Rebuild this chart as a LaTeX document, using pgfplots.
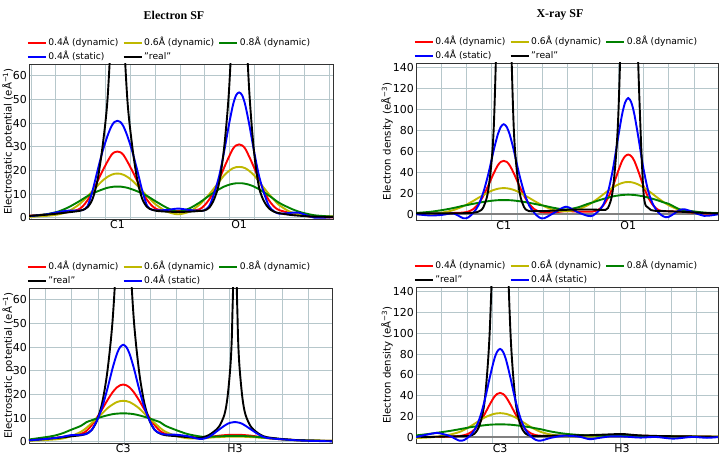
\documentclass[border=0pt]{standalone}
\usepackage{pgfplots}
\pgfplotsset{compat=1.18}
\usepackage{pgfplotstable}
\usepackage{fontspec}
\setmainfont{DejaVu Sans}
\newfontfamily\titlefont{Liberation Serif}

\definecolor{cR}{rgb}{1,0,0}
\definecolor{cO}{rgb}{0.75,0.72,0}
\definecolor{cG}{rgb}{0,0.5,0}
\definecolor{cB}{rgb}{0,0,1}
\definecolor{gridc}{RGB}{182,199,203}

% x  r(0.4 dyn) o(0.6 dyn) g(0.8 dyn) b(0.4 static) k(real)
\pgfplotstableread{
x r o g b k
-0.27 0.9 0.4 0.7 0.7 0.8
-0.1 1.4 0.8 1.5 1.4 1.3
0.02 1.9 1.4 2.6 2.4 1.8
0.12 2.4 2.6 4.3 3.0 2.3
0.22 3.4 5.2 6.6 3.1 2.8
0.27 4.8 7.0 7.9 3.3 3.3
0.32 7.5 9.1 9.2 5.0 4.5
0.37 11.0 11.4 10.3 11.5 8
0.42 15.5 13.6 11.2 20 16
0.47 19.8 15.7 12.0 28 30
0.52 23.8 17.3 12.7 34.6 50
0.56 26.6 18.2 13.0 38.7 85
0.59 27.7 18.6 13.2 40.5 150
0.62 28.0 18.7 13.2 41 400
0.65 27.7 18.6 13.2 40.5 150
0.68 26.6 18.2 13.0 38.7 85
0.72 23.8 17.3 12.7 34.6 50
0.77 19.8 15.7 12.0 28 30
0.82 15.5 13.6 11.2 20 16
0.87 11.0 11.4 10.3 11.5 8
0.92 7.5 9.1 9.2 5.0 4.5
0.97 5.0 7.0 7.9 3.4 3.4
1.02 3.6 5.2 6.6 3.2 2.9
1.12 3.0 2.6 4.2 3.3 2.6
1.23 2.8 1.5 2.6 3.9 2.5
1.345 2.9 2.6 4.0 3.3 2.6
1.445 3.6 5.5 6.4 3.0 2.9
1.495 5.2 7.7 7.9 3.2 3.1
1.545 7.8 10.0 9.4 5.0 4.3
1.595 11.5 12.6 10.8 10.5 8
1.645 16.2 15.3 12.1 17.8 15
1.695 21.3 18.0 13.2 28.2 30
1.745 26.0 19.9 14.0 39.9 55
1.785 29.3 21.0 14.4 48 95
1.815 30.6 21.4 14.6 51.8 170
1.845 31.0 21.5 14.6 53 500
1.875 30.6 21.4 14.6 51.8 170
1.905 29.3 21.0 14.4 48 95
1.945 26.0 19.9 14.0 39.9 55
1.995 21.3 18.0 13.2 28.2 28
2.045 16.2 15.3 12.1 17.8 13
2.095 11.3 12.6 10.8 10.5 7
2.145 7.4 10.0 9.4 5.0 4
2.195 4.8 7.7 7.9 2.8 2.6
2.245 3.3 5.5 6.4 1.8 2.0
2.345 2.2 2.8 4.3 2.0 1.3
2.445 1.3 1.4 2.6 2.2 0.9
2.6 0.3 0.7 1.1 0.1 0.5
2.79 0.2 0.6 0.5 0.3 0.4
}\tabTL

\pgfplotstableread{
x r o g b k
-0.247 0.3 0.0 1.2 0.0 0.8
-0.1 0.4 0.3 2.4 -1.2 0.8
0.02 0.6 1.7 4.1 -0.5 0.8
0.12 1.2 3.9 5.9 0.8 0.9
0.22 1.6 7.6 8.1 -3.8 1.0
0.27 2.6 10.1 9.0 -3.0 1.2
0.32 5.0 12.8 10.0 1.5 1.5
0.37 10.0 15.7 10.9 8.5 2.5
0.42 17.8 18.4 11.8 21.4 7
0.47 28.0 21.1 12.5 39.4 25
0.52 39.0 23.2 13.1 60.8 80
0.56 46.5 24.3 13.4 75.8 220
0.59 50.0 24.8 13.5 83.3 400
0.62 51.0 25.0 13.5 86 1000
0.65 50.0 24.8 13.5 83.3 400
0.68 46.5 24.3 13.4 75.8 220
0.72 39.0 23.2 13.1 60.8 80
0.77 28.0 21.1 12.5 39.4 25
0.82 17.8 18.4 11.8 21.4 7
0.87 10.0 15.7 10.9 8.5 3.0
0.92 5.0 12.8 10.0 1.5 3.0
0.97 2.6 10.1 9.0 -3.0 3.0
1.02 1.8 7.6 8.1 -3.8 3.0
1.12 1.8 3.9 6.0 1.5 3.5
1.235 3.0 2.9 4.5 7.2 4.2
1.35 2.5 4.5 6.5 2.0 4.5
1.45 2.5 8.6 9.9 -1.5 4.5
1.5 2.6 11.6 11.3 -1.3 4.5
1.55 4.0 15.0 13.0 2.5 4.3
1.6 8.0 18.7 14.5 8.4 4.2
1.65 15.5 22.4 15.8 21.2 6
1.7 27.0 25.7 17.1 43.8 25
1.75 41.0 28.4 17.9 73.5 90
1.79 51.0 29.9 18.4 95.7 230
1.82 55.5 30.6 18.6 106.9 450
1.85 57.0 30.8 18.7 111 1000
1.88 55.5 30.6 18.6 106.9 500
1.91 51.0 29.9 18.4 95.7 300
1.95 41.0 28.4 17.9 73.5 140
2.0 27.0 25.7 17.1 43.8 22
2.05 15.5 22.4 15.8 21.2 6
2.1 8.0 18.7 14.5 8.4 3.5
2.15 4.0 15.0 13.0 1.5 3.0
2.2 3.0 11.6 11.3 -2.2 3.0
2.25 2.8 8.6 9.9 -2.5 2.8
2.35 2.5 4.2 5.0 3.5 2.5
2.4 2.2 2.8 4.0 4.8 2.2
2.45 1.8 2.2 3.3 3.5 2.0
2.6 0.6 1.0 1.6 -1.5 1.2
2.737 0.3 1.0 1.0 0.0 0.8
}\tabTR

\pgfplotstableread{
x r o g b k
-0.406 0.6 0.4 1.0 0.6 0.6
-0.2 1.4 0.9 2.3 1.4 1.4
-0.1 2.0 1.3 3.4 2.0 1.8
-0.01 2.5 2.3 5.0 2.8 2.3
0.09 3.4 4.3 6.8 3.0 2.8
0.14 4.6 5.9 8.3 3.3 3.5
0.19 7.0 7.9 9.1 5.0 5
0.24 10.2 10.0 9.9 9.0 9
0.29 13.8 12.0 10.6 14.6 16.5
0.34 17.6 14.2 11.2 22.5 30
0.39 21.0 15.8 11.7 31.3 52
0.43 23.0 16.8 11.9 37.2 85
0.46 23.9 17.2 12.0 40.0 140
0.49 24.2 17.3 12.0 41 400
0.52 23.9 17.2 12.0 40.0 140
0.55 23.0 16.8 11.9 37.2 85
0.59 21.0 15.8 11.7 31.3 52
0.64 17.6 14.2 11.2 22.5 30
0.69 13.8 12.0 10.6 14.6 16.5
0.74 10.2 10.0 9.9 9.0 9
0.79 7.0 7.9 9.1 5.0 5
0.84 4.6 5.9 8.3 3.6 3.5
0.89 3.4 4.3 6.8 3.1 2.8
0.99 2.6 2.5 5.0 3.0 2.4
1.1 2.2 1.5 3.3 2.4 2.0
1.2 1.8 1.5 2.4 1.3 1.6
1.252 1.8 1.6 2.1 1.3 2.0
1.302 2.0 1.7 2.1 2.0 2.8
1.352 2.3 1.9 2.2 3.5 4.3
1.402 2.6 2.0 2.3 5.2 6.5
1.452 2.8 2.1 2.4 6.8 11.5
1.482 2.9 2.2 2.5 7.6 19
1.512 3.0 2.2 2.5 8.1 34
1.527 3.0 2.2 2.5 8.2 52
1.540 3.0 2.2 2.5 8.3 95
1.552 3.0 2.2 2.5 8.3 300
1.564 3.0 2.2 2.5 8.3 95
1.577 3.0 2.2 2.5 8.2 52
1.592 3.0 2.2 2.5 8.1 34
1.622 2.9 2.2 2.5 7.6 19
1.652 2.8 2.1 2.4 6.8 11.5
1.702 2.6 2.0 2.3 5.3 6.5
1.752 2.3 1.9 2.1 3.8 4.3
1.802 2.0 1.7 1.9 2.5 2.8
1.852 1.6 1.6 1.7 1.7 2.0
1.952 1.2 1.2 1.3 1.2 1.4
2.052 0.9 0.9 0.9 0.9 1.0
2.2 0.6 0.6 0.6 0.5 0.6
2.475 0.4 0.4 0.4 0.2 0.3
}\tabBL

\pgfplotstableread{
x r o g b k
-0.252 0.2 -0.8 1.8 0.3 0.5
-0.1 0.3 0.0 3.5 3.5 0.4
-0.048 0.4 0.6 4.3 4.3 0.5
0.072 0.6 2.4 6.0 1.5 0.8
0.172 1.2 5.0 7.7 -3.2 1.0
0.222 2.1 7.3 8.6 -2.5 1.2
0.272 3.9 10.0 9.5 1.0 1.5
0.322 7.6 13.0 10.3 7.0 3.5
0.372 14.0 16.2 11.0 18.3 12
0.422 22.5 19.1 11.6 35.8 36
0.472 31.8 21.2 12.1 57.9 105
0.512 38.4 22.5 12.3 74 250
0.542 41.6 23.0 12.4 82.1 600
0.572 42.7 23.2 12.4 85 2000
0.602 41.6 23.0 12.4 82.1 600
0.632 38.4 22.5 12.3 74 250
0.672 31.8 21.2 12.1 57.9 105
0.722 22.5 19.1 11.6 35.8 36
0.772 14.0 16.2 11.0 18.3 12
0.822 7.6 13.0 10.3 7.0 3.5
0.872 3.9 10.0 9.5 1.0 1.5
0.922 2.1 7.3 8.6 -2.5 1.2
0.972 1.5 5.1 7.7 -3.2 1.2
1.072 1.5 2.6 5.5 -0.5 1.5
1.2 1.5 1.2 3.5 1.5 1.7
1.35 1.5 0.8 2.2 0.5 1.8
1.45 1.5 0.9 1.8 -1.8 2.0
1.55 1.6 1.0 1.6 -0.5 2.4
1.65 1.7 1.0 1.6 0.8 2.8
1.768 1.8 1.0 1.6 0.8 3.2
1.85 1.6 1.0 1.5 0.3 2.5
1.95 1.4 0.9 1.3 -0.3 1.8
2.1 1.2 0.9 1.0 0.3 1.3
2.27 1.0 0.8 0.8 -1.3 1.0
2.45 0.8 0.7 0.6 0.3 0.8
2.6 0.6 0.6 0.5 -0.5 0.6
2.708 0.5 0.6 0.5 0.2 0.5
}\tabBR

\pgfplotsset{legend image code/.code={\draw[#1, line width=2.2bp] (0bp,0bp) -- (18bp,0bp);}}

\pgfplotsset{
  panel/.style={
    scale only axis, anchor=south west, clip=true,
    axis line style={black!80, line width=0.8bp},
    /pgf/number format/assume math mode=true,
    tick label style={font=\fontsize{11}{13}\selectfont},
    label style={font=\fontsize{10.2}{12}\selectfont},
    major tick length=0pt, minor tick length=0pt,
    ymajorgrids=true, xmajorgrids=false, xminorgrids=true,
    grid style={gridc, line width=0.8bp},
    minor grid style={gridc, line width=0.8bp},
    minor xtick={-0.25,0,...,2.75},
    xticklabel style={inner sep=1.2bp},
    yticklabel style={inner sep=2bp},
    legend columns=3,
    legend cell align=left,
    legend style={draw=none, fill=none, at={(axis description cs:0,1)}, anchor=south west,
      xshift=-2.5bp, yshift=1bp, inner sep=0pt, row sep=2bp,
      font=\fontsize{9.2}{10}\selectfont,
      nodes={inner sep=1.5bp, text height=7bp, text depth=2bp},
      /tikz/every even column/.append style={column sep=2.5bp}},
    every axis plot/.append style={line width=1.9bp, smooth},
  },
  elec/.style={panel, ymin=-0.5, ymax=65, ytick={0,10,...,60},
    ylabel={Electrostatic potential (eÅ\textsuperscript{−1})},
    ylabel style={at={(axis description cs:-0.069,0.5)}, anchor=center}},
  xray/.style={panel, ymin=-5.5, ymax=144.5, ytick={0,20,...,140},
    ylabel={Electron density (eÅ\textsuperscript{−3})},
    ylabel style={at={(axis description cs:-0.096,0.5)}, anchor=center}},
}

\begin{document}
\begin{tikzpicture}
\useasboundingbox (0bp,0bp) rectangle (720bp,454bp);
\node[font=\titlefont\bfseries\fontsize{12}{14}\selectfont] at (174bp,439bp) {Electron SF};
\node[font=\titlefont\bfseries\fontsize{12}{14}\selectfont] at (560bp,439bp) {X-ray SF};

% top left
\begin{axis}[elec, at={(29bp,235bp)}, width=304bp, height=155bp,
  xmin=-0.27, xmax=2.79, xtick={0.62,1.845}, xticklabels={C1,O1}]
\addplot[cR] table[x=x,y=r]{\tabTL}; \addlegendentry{0.4Å (dynamic)}
\addplot[cO] table[x=x,y=o]{\tabTL}; \addlegendentry{0.6Å (dynamic)}
\addplot[cG] table[x=x,y=g]{\tabTL}; \addlegendentry{0.8Å (dynamic)}
\addplot[cB] table[x=x,y=b]{\tabTL}; \addlegendentry{0.4Å (static)}
\addplot[black] table[x=x,y=k]{\tabTL}; \addlegendentry{"real"}
\end{axis}

% top right
\begin{axis}[xray, at={(416bp,234bp)}, width=302bp, height=157bp,
  xmin=-0.247, xmax=2.737, xtick={0.62,1.85}, xticklabels={C1,O1}]
\addplot[gray, line width=1.8bp, forget plot] coordinates {(-0.3,0) (2.8,0)};
\addplot[cR] table[x=x,y=r]{\tabTR}; \addlegendentry{0.4Å (dynamic)}
\addplot[cO] table[x=x,y=o]{\tabTR}; \addlegendentry{0.6Å (dynamic)}
\addplot[cG] table[x=x,y=g]{\tabTR}; \addlegendentry{0.8Å (dynamic)}
\addplot[cB] table[x=x,y=b]{\tabTR}; \addlegendentry{0.4Å (static)}
\addplot[black] table[x=x,y=k]{\tabTR}; \addlegendentry{"real"}
\end{axis}

% bottom left
\begin{axis}[elec, at={(29bp,11bp)}, width=303bp, height=155bp,
  xmin=-0.406, xmax=2.475, xtick={0.49,1.552}, xticklabels={C3,H3}]
\addplot[cR] table[x=x,y=r]{\tabBL}; \addlegendentry{0.4Å (dynamic)}
\addplot[cO] table[x=x,y=o]{\tabBL}; \addlegendentry{0.6Å (dynamic)}
\addplot[cG] table[x=x,y=g]{\tabBL}; \addlegendentry{0.8Å (dynamic)}
\addplot[black] table[x=x,y=k]{\tabBL}; \addlegendentry{"real"}
\addplot[cB] table[x=x,y=b]{\tabBL}; \addlegendentry{0.4Å (static)}
\end{axis}

% bottom right
\begin{axis}[xray, at={(416bp,11bp)}, width=302bp, height=156bp,
  xmin=-0.252, xmax=2.708, xtick={0.572,1.768}, xticklabels={C3,H3}]
\addplot[gray, line width=1.8bp, forget plot] coordinates {(-0.3,0) (2.8,0)};
\addplot[cR] table[x=x,y=r]{\tabBR}; \addlegendentry{0.4Å (dynamic)}
\addplot[cO] table[x=x,y=o]{\tabBR}; \addlegendentry{0.6Å (dynamic)}
\addplot[cG] table[x=x,y=g]{\tabBR}; \addlegendentry{0.8Å (dynamic)}
\addplot[black] table[x=x,y=k]{\tabBR}; \addlegendentry{"real"}
\addplot[cB] table[x=x,y=b]{\tabBR}; \addlegendentry{0.4Å (static)}
\end{axis}
\end{tikzpicture}
\end{document}
